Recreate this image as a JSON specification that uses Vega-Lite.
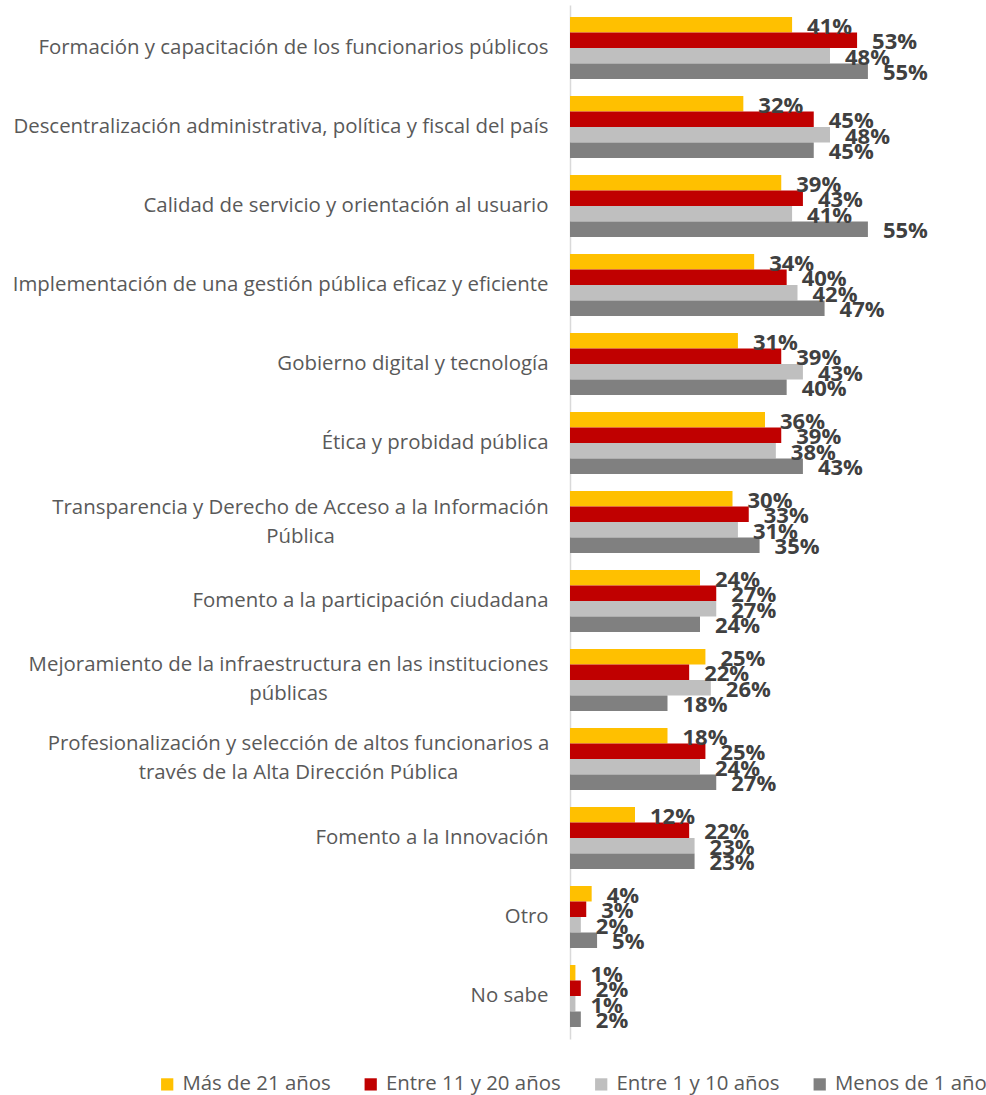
{
  "$schema": "https://vega.github.io/schema/vega-lite/v6.json",
  "autosize": {"type": "none"},
  "width": 325,
  "height": 1034,
  "padding": {"left": 570, "top": 5, "right": 91, "bottom": 56},
  "background": "white",
  "config": {"view": {"stroke": null}},
  "data": {"values": [
    {"categoria": "Formación y capacitación de los funcionarios públicos", "grupo": "Más de 21 años", "valor": 0.41},
    {"categoria": "Formación y capacitación de los funcionarios públicos", "grupo": "Entre 11 y 20 años", "valor": 0.53},
    {"categoria": "Formación y capacitación de los funcionarios públicos", "grupo": "Entre 1 y 10 años", "valor": 0.48},
    {"categoria": "Formación y capacitación de los funcionarios públicos", "grupo": "Menos de 1 año", "valor": 0.55},
    {"categoria": "Descentralización administrativa, política y fiscal del país", "grupo": "Más de 21 años", "valor": 0.32},
    {"categoria": "Descentralización administrativa, política y fiscal del país", "grupo": "Entre 11 y 20 años", "valor": 0.45},
    {"categoria": "Descentralización administrativa, política y fiscal del país", "grupo": "Entre 1 y 10 años", "valor": 0.48},
    {"categoria": "Descentralización administrativa, política y fiscal del país", "grupo": "Menos de 1 año", "valor": 0.45},
    {"categoria": "Calidad de servicio y orientación al usuario", "grupo": "Más de 21 años", "valor": 0.39},
    {"categoria": "Calidad de servicio y orientación al usuario", "grupo": "Entre 11 y 20 años", "valor": 0.43},
    {"categoria": "Calidad de servicio y orientación al usuario", "grupo": "Entre 1 y 10 años", "valor": 0.41},
    {"categoria": "Calidad de servicio y orientación al usuario", "grupo": "Menos de 1 año", "valor": 0.55},
    {"categoria": "Implementación de una gestión pública eficaz y eficiente", "grupo": "Más de 21 años", "valor": 0.34},
    {"categoria": "Implementación de una gestión pública eficaz y eficiente", "grupo": "Entre 11 y 20 años", "valor": 0.40},
    {"categoria": "Implementación de una gestión pública eficaz y eficiente", "grupo": "Entre 1 y 10 años", "valor": 0.42},
    {"categoria": "Implementación de una gestión pública eficaz y eficiente", "grupo": "Menos de 1 año", "valor": 0.47},
    {"categoria": "Gobierno digital y tecnología", "grupo": "Más de 21 años", "valor": 0.31},
    {"categoria": "Gobierno digital y tecnología", "grupo": "Entre 11 y 20 años", "valor": 0.39},
    {"categoria": "Gobierno digital y tecnología", "grupo": "Entre 1 y 10 años", "valor": 0.43},
    {"categoria": "Gobierno digital y tecnología", "grupo": "Menos de 1 año", "valor": 0.40},
    {"categoria": "Ética y probidad pública", "grupo": "Más de 21 años", "valor": 0.36},
    {"categoria": "Ética y probidad pública", "grupo": "Entre 11 y 20 años", "valor": 0.39},
    {"categoria": "Ética y probidad pública", "grupo": "Entre 1 y 10 años", "valor": 0.38},
    {"categoria": "Ética y probidad pública", "grupo": "Menos de 1 año", "valor": 0.43},
    {"categoria": "Transparencia y Derecho de Acceso a la Información Pública", "grupo": "Más de 21 años", "valor": 0.30},
    {"categoria": "Transparencia y Derecho de Acceso a la Información Pública", "grupo": "Entre 11 y 20 años", "valor": 0.33},
    {"categoria": "Transparencia y Derecho de Acceso a la Información Pública", "grupo": "Entre 1 y 10 años", "valor": 0.31},
    {"categoria": "Transparencia y Derecho de Acceso a la Información Pública", "grupo": "Menos de 1 año", "valor": 0.35},
    {"categoria": "Fomento a la participación ciudadana", "grupo": "Más de 21 años", "valor": 0.24},
    {"categoria": "Fomento a la participación ciudadana", "grupo": "Entre 11 y 20 años", "valor": 0.27},
    {"categoria": "Fomento a la participación ciudadana", "grupo": "Entre 1 y 10 años", "valor": 0.27},
    {"categoria": "Fomento a la participación ciudadana", "grupo": "Menos de 1 año", "valor": 0.24},
    {"categoria": "Mejoramiento de la infraestructura en las instituciones públicas", "grupo": "Más de 21 años", "valor": 0.25},
    {"categoria": "Mejoramiento de la infraestructura en las instituciones públicas", "grupo": "Entre 11 y 20 años", "valor": 0.22},
    {"categoria": "Mejoramiento de la infraestructura en las instituciones públicas", "grupo": "Entre 1 y 10 años", "valor": 0.26},
    {"categoria": "Mejoramiento de la infraestructura en las instituciones públicas", "grupo": "Menos de 1 año", "valor": 0.18},
    {"categoria": "Profesionalización y selección de altos funcionarios a través de la Alta Dirección Pública", "grupo": "Más de 21 años", "valor": 0.18},
    {"categoria": "Profesionalización y selección de altos funcionarios a través de la Alta Dirección Pública", "grupo": "Entre 11 y 20 años", "valor": 0.25},
    {"categoria": "Profesionalización y selección de altos funcionarios a través de la Alta Dirección Pública", "grupo": "Entre 1 y 10 años", "valor": 0.24},
    {"categoria": "Profesionalización y selección de altos funcionarios a través de la Alta Dirección Pública", "grupo": "Menos de 1 año", "valor": 0.27},
    {"categoria": "Fomento a la Innovación", "grupo": "Más de 21 años", "valor": 0.12},
    {"categoria": "Fomento a la Innovación", "grupo": "Entre 11 y 20 años", "valor": 0.22},
    {"categoria": "Fomento a la Innovación", "grupo": "Entre 1 y 10 años", "valor": 0.23},
    {"categoria": "Fomento a la Innovación", "grupo": "Menos de 1 año", "valor": 0.23},
    {"categoria": "Otro", "grupo": "Más de 21 años", "valor": 0.04},
    {"categoria": "Otro", "grupo": "Entre 11 y 20 años", "valor": 0.03},
    {"categoria": "Otro", "grupo": "Entre 1 y 10 años", "valor": 0.02},
    {"categoria": "Otro", "grupo": "Menos de 1 año", "valor": 0.05},
    {"categoria": "No sabe", "grupo": "Más de 21 años", "valor": 0.01},
    {"categoria": "No sabe", "grupo": "Entre 11 y 20 años", "valor": 0.02},
    {"categoria": "No sabe", "grupo": "Entre 1 y 10 años", "valor": 0.01},
    {"categoria": "No sabe", "grupo": "Menos de 1 año", "valor": 0.02}
  ]},
  "encoding": {
    "y": {
      "field": "categoria", "type": "nominal", "sort": null,
      "scale": {"paddingInner": 0.215, "paddingOuter": 0.152},
      "axis": {
        "title": null, "ticks": false, "domainColor": "#D9D9D9", "domainWidth": 1.5,
        "labelFont": "Open Sans", "labelFontSize": 20.4, "labelColor": "#595959",
        "labelLimit": 700, "labelLineHeight": 29,
        "labelAlign": {"condition": {"test": "indexof(datum.value, 'Transparencia') == 0 || indexof(datum.value, 'Mejoramiento') == 0 || indexof(datum.value, 'Profesionalización') == 0", "value": "center"}, "value": "right"},
        "labelPadding": {"condition": [
          {"test": "indexof(datum.value, 'Transparencia') == 0", "value": 270},
          {"test": "indexof(datum.value, 'Mejoramiento') == 0", "value": 282},
          {"test": "indexof(datum.value, 'Profesionalización') == 0", "value": 272}
        ], "value": 22},
        "labelOffset": {"condition": {"test": "indexof(datum.value, 'Transparencia') == 0 || indexof(datum.value, 'Mejoramiento') == 0 || indexof(datum.value, 'Profesionalización') == 0", "value": -14.5}, "value": 0},
        "labelExpr": "datum.label == 'Transparencia y Derecho de Acceso a la Información Pública' ? ['Transparencia y Derecho de Acceso a la Información', 'Pública'] : datum.label == 'Mejoramiento de la infraestructura en las instituciones públicas' ? ['Mejoramiento de la infraestructura en las instituciones', 'públicas'] : datum.label == 'Profesionalización y selección de altos funcionarios a través de la Alta Dirección Pública' ? ['Profesionalización y selección de altos funcionarios a', 'través de la Alta Dirección Pública'] : datum.label"
      }
    },
    "yOffset": {
      "field": "grupo", "type": "nominal",
      "scale": {"domain": ["Más de 21 años", "Entre 11 y 20 años", "Entre 1 y 10 años", "Menos de 1 año"], "paddingInner": 0, "paddingOuter": 0}
    },
    "x": {
      "field": "valor", "type": "quantitative",
      "scale": {"domain": [0, 0.6], "nice": false},
      "axis": null
    }
  },
  "layer": [
    {
      "mark": {"type": "bar"},
      "encoding": {
        "color": {
          "field": "grupo", "type": "nominal",
          "scale": {"domain": ["Más de 21 años", "Entre 11 y 20 años", "Entre 1 y 10 años", "Menos de 1 año"], "range": ["#FFC000", "#C00000", "#BFBFBF", "#808080"]},
          "legend": {
            "title": null, "orient": "none", "direction": "horizontal",
            "legendX": -413, "legendY": 1069,
            "symbolType": "square", "symbolSize": 150, "symbolStrokeWidth": 0,
            "labelFont": "Open Sans", "labelFontSize": 20.4, "labelColor": "#595959",
            "labelOffset": 5, "columnPadding": 29.5, "labelLimit": 300
          }
        }
      }
    },
    {
      "mark": {"type": "text", "align": "left", "baseline": "middle", "dx": 15, "dy": 2, "font": "Open Sans", "fontWeight": "bold", "fontSize": 22, "color": "#404040"},
      "encoding": {
        "text": {"field": "valor", "type": "quantitative", "format": ".0%"}
      }
    }
  ]
}
